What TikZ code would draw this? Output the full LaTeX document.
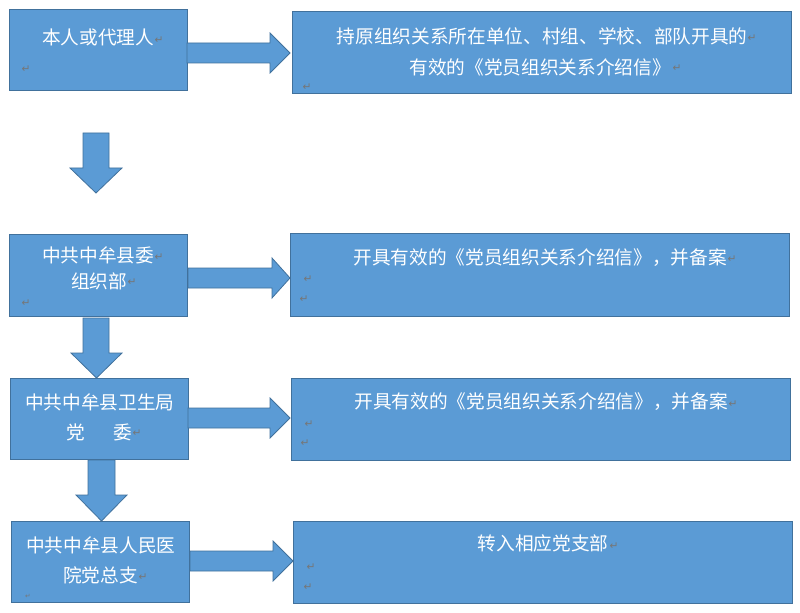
\documentclass[tikz,border=0pt]{standalone}
\usepackage{fontspec}
\newfontfamily\cjk{Noto Sans CJK SC}
\newfontfamily\djv{DejaVu Sans}
\usetikzlibrary{fit}
\definecolor{boxfill}{HTML}{5B9BD5}
\definecolor{boxline}{HTML}{41719C}
\definecolor{pmgray}{HTML}{767676}
\tikzset{
  box/.style={draw=boxline, fill=boxfill, line width=0.75pt, inner sep=0pt},
  barrow/.style={draw=boxline, fill=boxfill, line width=0.6pt, line join=miter},
  txt/.style={text=white, font=\cjk\fontsize{14}{14}\selectfont, inner sep=0pt},
  pm/.style={text=pmgray, font=\djv\fontsize{8}{8}\selectfont, inner sep=0pt},
}
\begin{document}
\begin{tikzpicture}[x=0.75pt,y=-0.75pt]
\useasboundingbox (0,0) rectangle (800,613);
\fill[white] (0,0) rectangle (800,613);

% boxes
\node[box, fit={(9,10) (187,91)}] (b1) {};
\node[box, fit={(292,12) (791,94)}] (b2) {};
\node[box, fit={(9,235) (187,316)}] (b3) {};
\node[box, fit={(290,234) (789,316)}] (b4) {};
\node[box, fit={(10,378) (188,459)}] (b5) {};
\node[box, fit={(291,378) (790,460)}] (b6) {};
\node[box, fit={(11,521) (189,602)}] (b7) {};
\node[box, fit={(293,521) (792,603)}] (b8) {};

% right block arrows
\draw[barrow] (187,43) -- (270,43) -- (270,33) -- (290,53) -- (270,73) -- (270,63) -- (187,63) -- cycle;
\draw[barrow] (188,268) -- (272,268) -- (272,258) -- (290,278) -- (272,298) -- (272,288) -- (188,288) -- cycle;
\draw[barrow] (188,408) -- (270,408) -- (270,398) -- (290,418) -- (270,438) -- (270,428) -- (188,428) -- cycle;
\draw[barrow] (190,551) -- (273,551) -- (273,541) -- (293,561) -- (273,581) -- (273,571) -- (190,571) -- cycle;

% down block arrows
\draw[barrow] (83,133) -- (109,133) -- (109,168) -- (122,168) -- (96,193) -- (70,168) -- (83,168) -- cycle;
\draw[barrow] (83,318) -- (109,318) -- (109,353) -- (122,353) -- (96.5,378) -- (71,353) -- (83,353) -- cycle;
\draw[barrow] (88,460) -- (115,460) -- (115,495) -- (127,495) -- (101.5,521) -- (76,495) -- (88,495) -- cycle;

% texts
\node[txt] (t1) at (98,37) {本人或代理人};
\node[txt] (t2a) at (542,36) {持原组织关系所在单位、村组、学校、部队开具的};
\node[txt] (t2b) at (540,67) {有效的《党员组织关系介绍信》};
\node[txt] (t3a) at (98,255) {中共中牟县委};
\node[txt] (t3b) at (99,281) {组织部};
\node[txt] (t4) at (540,258) {开具有效的《党员组织关系介绍信》，并备案};
\node[txt] (t5a) at (100,402) {中共中牟县卫生局};
\node[txt] (t5b) at (99.5,432) {党\hspace{1.5em}委};
\node[txt] (t6) at (541,402) {开具有效的《党员组织关系介绍信》，并备案};
\node[txt] (t7a) at (101,545) {中共中牟县人民医};
\node[txt] (t7b) at (100.5,575) {院党总支};
\node[txt] (t8) at (543,543) {转入相应党支部};

% paragraph marks
\node[pm] (p1) at (159,40) {↵};
\node[pm] (p2) at (26,69) {↵};
\node[pm] (p3) at (752,38) {↵};
\node[pm] (p4) at (677,68) {↵};
\node[pm] (p5) at (307,87) {↵};
\node[pm] (p6) at (159,257) {↵};
\node[pm] (p7) at (132,282) {↵};
\node[pm] (p8) at (26,303) {↵};
\node[pm] (p9) at (732,259) {↵};
\node[pm] (p10) at (308,279) {↵};
\node[pm] (p11) at (304,299) {↵};
\node[pm] (p12) at (137,433) {↵};
\node[pm] (p13) at (733,404) {↵};
\node[pm] (p14) at (309,424) {↵};
\node[pm] (p15) at (305,443) {↵};
\node[pm] (p16) at (143,577) {↵};
\node[pm, font=\djv\fontsize{5}{5}\selectfont] (p17) at (28,596) {↵};
\node[pm] (p18) at (614,546) {↵};
\node[pm] (p19) at (311,567) {↵};
\node[pm] (p20) at (308,587) {↵};
\end{tikzpicture}
\end{document}
